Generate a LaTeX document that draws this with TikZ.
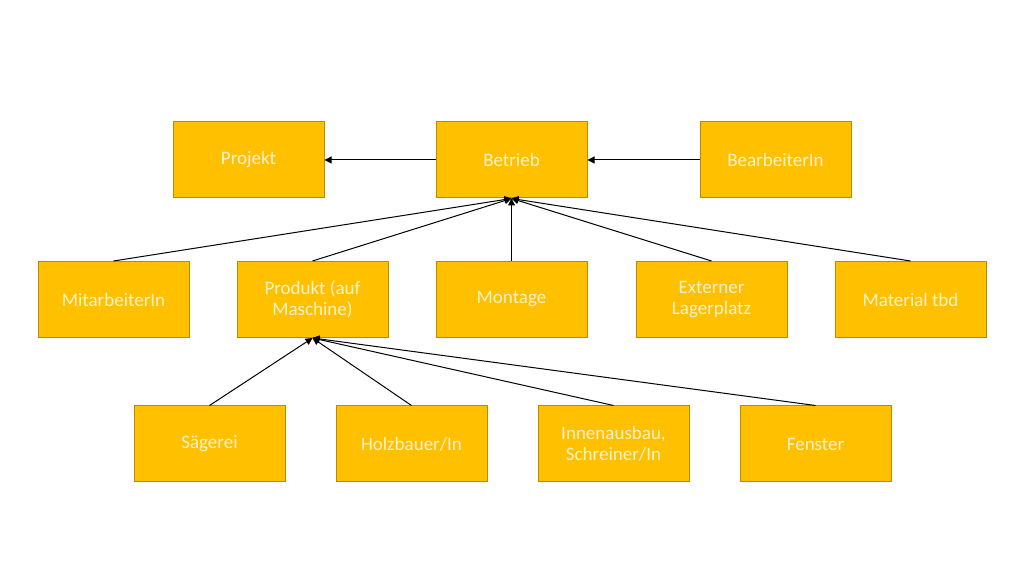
\documentclass[tikz,border=0pt]{standalone}
\usepackage{fontspec}
\setmainfont{Carlito}
\usetikzlibrary{arrows.meta}
\definecolor{boxfill}{HTML}{FFC000}
\definecolor{boxline}{HTML}{BC8C00}
\definecolor{boxtext}{HTML}{FFF2CC}
\begin{document}
\begin{tikzpicture}[x=0.5pt,y=-0.5pt,
  box/.style={draw=boxline,fill=boxfill,line width=0.5pt,minimum width=75.5pt,minimum height=38pt,
    inner sep=0pt,align=center,text=boxtext,font=\fontsize{9.5pt}{10.5pt}\selectfont},
  conn/.style={draw=black,line width=0.5pt,-{Triangle[length=3.5pt,width=3.5pt]}}]
\useasboundingbox (0,0) rectangle (1024,576);
\node[box] (projekt) at (248.5,160) {Projekt};
\node[box] (betrieb) at (511.5,160) {Betrieb};
\node[box] (bearb) at (775.5,160) {BearbeiterIn};
\node[box] (mitarb) at (113.5,299.5) {MitarbeiterIn};
\node[box] (produkt) at (312.5,299.5) {Produkt (auf\\Maschine)};
\node[box] (montage) at (511.5,299.5) {Montage};
\node[box] (extern) at (711.5,299.5) {Externer\\Lagerplatz};
\node[box] (material) at (910.5,299.5) {Material tbd};
\node[box] (saeg) at (209.5,444) {Sägerei};
\node[box] (holz) at (411.5,444) {Holzbauer/In};
\node[box] (innen) at (613.5,444) {Innenausbau,\\Schreiner/In};
\node[box] (fenster) at (815.5,444) {Fenster};
\draw[conn] (betrieb.west) -- (projekt.east);
\draw[conn] (bearb.west) -- (betrieb.east);
\foreach \n in {mitarb,produkt,montage,extern,material}
  \draw[conn] (\n.north) -- (betrieb.south);
\foreach \n in {saeg,holz,innen,fenster}
  \draw[conn] (\n.north) -- (produkt.south);
\end{tikzpicture}
\end{document}
